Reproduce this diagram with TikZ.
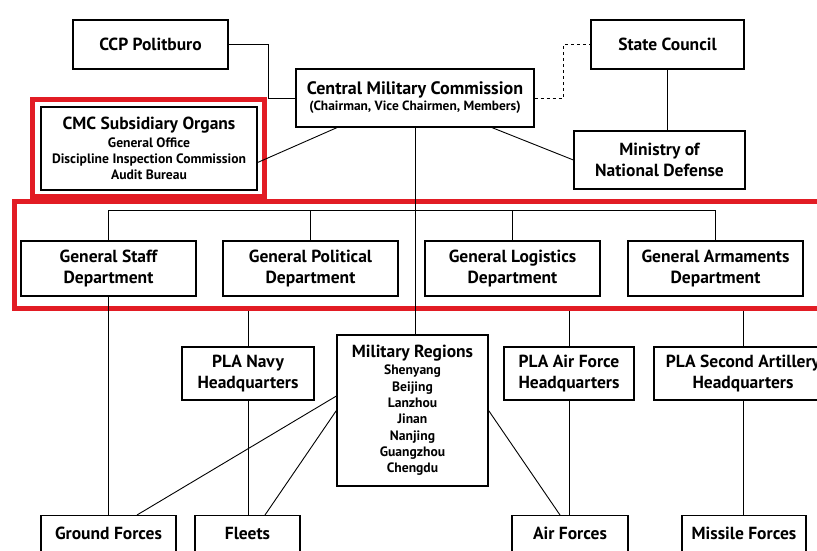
\documentclass[tikz,border=0pt]{standalone}
\usepackage{fontspec}
\setmainfont{PT Sans}
\definecolor{framered}{RGB}{226,28,36}
\newcommand\subfont{\fontsize{13.6}{16}\selectfont}
\begin{document}
\begin{tikzpicture}[x=1pt,y=-1pt]
        \useasboundingbox (0,0) rectangle (817,551);
        % red frames
        \begin{scope}[every path/.style={draw=framered,line width=5pt}]
        \draw (32.5,99.5) rectangle (264.5,196.5);
        \draw (14.5,201.5) rectangle (835,308.5);
        \end{scope}
        \begin{scope}[every node/.style={draw,line width=1.2pt,fill=white,align=center,inner sep=0pt,font=\bfseries\fontsize{17.5}{21}\selectfont}]
        \node[minimum width=155pt,minimum height=49pt] (ccp) at (150.5,44.5) {CCP Politburo};
        \node[minimum width=238pt,minimum height=58pt] (cmc) at (415,98) {\fontsize{18}{21}\selectfont Central Military Commission\\[-5pt]\fontsize{13.4}{16}\selectfont (Chairman, Vice Chairmen, Members)};
        \node[minimum width=216pt,minimum height=83pt] (sub) at (149,148.5) {CMC Subsidiary Organs\\[-3pt]\subfont General Office\\[-5pt]\subfont Discipline Inspection Commission\\[-5pt]\subfont Audit Bureau};
        \node[minimum width=153pt,minimum height=49pt] (state) at (667.5,44.5) {State Council};
        \node[minimum width=171pt,minimum height=58pt] (mnd) at (659.5,160) {Ministry of\\National Defense};
        \node[minimum width=175pt,minimum height=55pt] (gsd) at (108.5,268.5) {General Staff\\Department};
        \node[minimum width=175pt,minimum height=55pt] (gpd) at (310.5,268.5) {General Political\\Department};
        \node[minimum width=175pt,minimum height=55pt] (gld) at (512.5,268.5) {General Logistics\\Department};
        \node[minimum width=175pt,minimum height=55pt] (gad) at (715.5,268.5) {General Armaments\\Department};
        \node[minimum width=132pt,minimum height=53pt] (navy) at (248,373.5) {PLA Navy\\Headquarters};
        \node[minimum width=151pt,minimum height=151pt] (mr) at (412.5,410.5) {Military Regions\\[-4pt]\subfont Shenyang\\[-4.7pt]\subfont Beijing\\[-4.7pt]\subfont Lanzhou\\[-4.7pt]\subfont Jinan\\[-4.7pt]\subfont Nanjing\\[-4.7pt]\subfont Guangzhou\\[-4.7pt]\subfont Chengdu};
        \node[minimum width=130pt,minimum height=53pt] (airhq) at (569,373.5) {PLA Air Force\\Headquarters};
        \node[minimum width=178pt,minimum height=53pt] (arty) at (743,373.5) {PLA Second Artillery\\Headquarters};
        \node[minimum width=135pt,minimum height=36pt,anchor=north] (ground) at (108.5,515) {Ground Forces};
        \node[minimum width=105pt,minimum height=36pt,anchor=north] (fleets) at (247.5,515) {Fleets};
        \node[minimum width=116pt,minimum height=36pt,anchor=north] (airf) at (570,515) {Air Forces};
        \node[minimum width=124pt,minimum height=36pt,anchor=north] (missile) at (744,515) {Missile Forces};
        \end{scope}
        \coordinate (fb) at (0,311);
        \begin{scope}[every path/.style={draw=black,line width=0.9pt}]
        \draw (ccp.east) -- ++(40,0) |- (cmc.west);
        \draw[dashed] (cmc.east) -- ++(29,0) |- (state.west);
        \draw ([yshift=-14pt]sub.east) -- ([xshift=-78pt]cmc.south);
        \draw ([xshift=77pt]cmc.south) -- (mnd.west);
        \draw (state.south) -- (state.south |- mnd.north);
        \draw (cmc.south) -- (cmc.south |- mr.north);
        \draw (gsd.north) -- ++(0,-30) -| (gad.north);
        \draw (gpd.north) -- ++(0,-30);
        \draw (gld.north) -- ++(0,-30);
        \draw (gsd.south) -- (ground.north);
        \draw (navy.north) -- (navy.north |- fb);
        \draw (airhq.north) -- (airhq.north |- fb);
        \draw (arty.north) -- (arty.north |- fb);
        \draw (navy.south) -- (navy.south |- fleets.north);
        \draw (airhq.south) -- (airhq.south |- airf.north);
        \draw (arty.south) -- (arty.south |- missile.north);
        \draw ([yshift=14.5pt]mr.west) -- ([xshift=28.5pt]ground.north);
        \draw (mr.west) -- ([xshift=17.5pt]fleets.north);
        \draw (mr.east) -- ([xshift=-10pt]airf.north);
        \end{scope}
        \end{tikzpicture}
\end{document}
